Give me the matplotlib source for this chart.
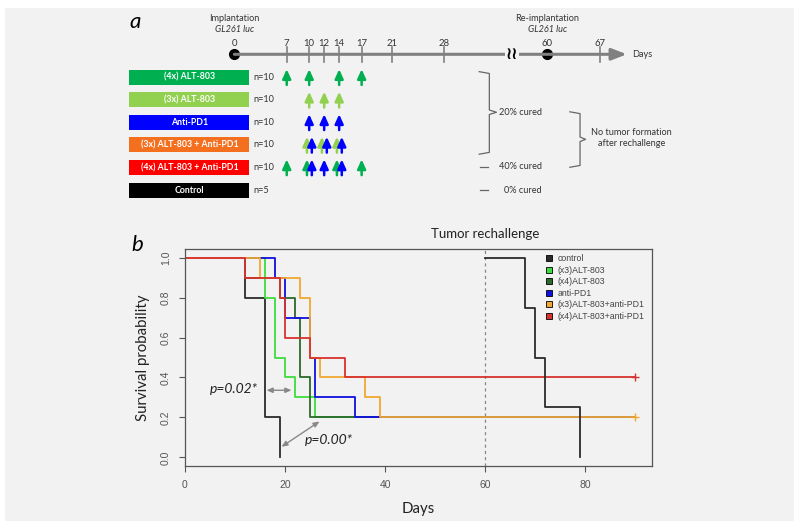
import matplotlib.pyplot as plt
import numpy as np
from matplotlib.lines import Line2D
from matplotlib.patches import Rectangle

# === データ(パネルa: 投与スケジュール) ===
groups = ['(4x) ALT-803', '(3x) ALT-803', 'Anti-PD1',
          '(3x) ALT-803 + Anti-PD1', '(4x) ALT-803 + Anti-PD1', 'Control']
group_n = ['n=10', 'n=10', 'n=10', 'n=10', 'n=10', 'n=5']
group_colors = ['#00b050', '#92d050', '#0000ff', '#f4701f', '#ff0000', '#000000']
timeline_days = [0, 7, 10, 12, 14, 17, 21, 28, 60, 67]
alt4_days = [7, 10, 14, 17]
alt3_days = [10, 12, 14]
pd1_days = [10, 12, 14]

# === データ(パネルb: 生存曲線) ===
km_labels = ['control', '(x3)ALT-803', '(x4)ALT-803', 'anti-PD1',
             '(x3)ALT-803+anti-PD1', '(x4)ALT-803+anti-PD1']
km_colors = ['#2b2b2b', '#3ddc3d', '#2a6a2a', '#1010e0', '#f0a830', '#d8322e']
km_times = [
    [0, 12, 16, 19],
    [0, 16, 18, 20, 22, 26],
    [0, 12, 19, 22, 23, 25],
    [0, 18, 20, 25, 26, 34],
    [0, 15, 23, 25, 27, 36, 39],
    [0, 12, 19, 20, 25, 32],
]
km_surv = [
    [1.0, 0.8, 0.2, 0.0],
    [1.0, 0.8, 0.5, 0.4, 0.3, 0.2],
    [1.0, 0.9, 0.8, 0.7, 0.4, 0.2],
    [1.0, 0.9, 0.7, 0.5, 0.3, 0.2],
    [1.0, 0.9, 0.8, 0.5, 0.4, 0.3, 0.2],
    [1.0, 0.9, 0.8, 0.6, 0.5, 0.4],
]
follow_end = 90
rechal_times = [60, 68, 70, 72, 79]
rechal_surv = [1.0, 0.75, 0.5, 0.25, 0.0]

BG = '#f2f2f2'
GRAY = '#808080'
TXT = '#333333'
FONT = ['Lato', 'DejaVu Sans']
RFONT = ['Liberation Sans', 'DejaVu Sans']
FS_A = 6.6

fig = plt.figure(figsize=(8, 5.28), dpi=100, facecolor='white')
fig.patches.append(Rectangle((5 / 800, 7 / 528), 789 / 800, 513 / 528,
                             transform=fig.transFigure, facecolor=BG,
                             edgecolor='none', zorder=-10))

# === パネルa ===
ax = fig.add_axes([0, 1 - 205 / 528, 1, 205 / 528])
ax.set_xlim(-234.3 / 7.49, (800 - 234.3) / 7.49)
ax.set_ylim((205 - 77.3) / 22.55, -77.3 / 22.55)
ax.axis('off')


def tl(d):
    # 28日と60日の間は省略
    return d if d <= 28 else d - 18.2


ty = -1.02
ax.annotate('', xy=(52.4, ty), xytext=(tl(0), ty),
            arrowprops=dict(arrowstyle='-|>,head_length=0.9,head_width=0.35',
                            color=GRAY, lw=2.2, shrinkA=0, shrinkB=0))
for d in timeline_days:
    if d not in (0, 60):
        ax.plot([tl(d), tl(d)], [ty - 0.32, ty + 0.33], color=GRAY, lw=1.2)
    ax.text(tl(d), -1.51, str(d), ha='center', va='center', fontsize=FS_A + 0.3,
            family=FONT, color=TXT)
ax.plot([tl(0), tl(60)], [ty, ty], 'o', color='black', markersize=7)
ax.text(37.1, ty, '≀≀', ha='center', va='center', fontsize=12,
        fontweight='bold', color='black',
        bbox=dict(boxstyle='square,pad=0.05', fc=BG, ec='none'))
ax.text(52.4 + 0.7, ty, 'Days', ha='left', va='center', fontsize=FS_A,
        family=FONT, color=TXT)
for d, lab in [(0, 'Implantation'), (60, 'Re-implantation')]:
    ax.text(tl(d), -2.62, lab, ha='center', va='center', fontsize=FS_A,
            family=FONT, color=TXT)
    ax.text(tl(d), -2.10, 'GL261 luc', ha='center', va='center', fontsize=FS_A,
            family=FONT, style='italic', color=TXT)
ax.text(-13.3, -2.45, 'a', ha='center', va='center', fontsize=16,
        family=FONT, style='italic')

rows = np.arange(len(groups))
ax.barh(rows, 16.0, left=-14.0, height=0.665, color=group_colors)
for r, (g, n) in enumerate(zip(groups, group_n)):
    ax.text(-6.0, r, g, ha='center', va='center', fontsize=6.3,
            family=FONT, fontweight='bold', color='white')
    ax.text(2.55, r, n, ha='left', va='center', fontsize=FS_A,
            family=FONT, color=TXT)


def up_arrow(x, r, c):
    ax.annotate('', xy=(x, r - 0.36), xytext=(x, r + 0.34),
                arrowprops=dict(arrowstyle='-|>,head_length=0.55,head_width=0.25',
                                color=c, lw=1.8, shrinkA=0, shrinkB=0))


schedule = [
    [(alt4_days, group_colors[0])],
    [(alt3_days, group_colors[1])],
    [(pd1_days, group_colors[2])],
    [(alt3_days, group_colors[1]), (pd1_days, group_colors[2])],
    [(alt4_days, group_colors[0]), (pd1_days, group_colors[2])],
    [],
]
for r, drugs in enumerate(schedule):
    all_days = [d for days, _ in drugs for d in days]
    for k, (days, c) in enumerate(drugs):
        for d in days:
            off = 0.0
            if all_days.count(d) > 1:
                off = -0.3 if k == 0 else 0.35
            up_arrow(tl(d) + off, r, c)


def brace(x_tip, x_v, x_notch, top, mid, bot):
    ax.plot([x_tip, x_v, x_v, x_notch, x_v, x_v, x_tip],
            [top, top + 0.08, mid - 0.1, mid, mid + 0.1, bot - 0.08, bot],
            color='#666666', lw=0.9)


brace(32.7, 34.05, 35.0, -0.25, 1.55, 3.41)
brace(44.8, 46.16, 46.9, 1.53, 2.75, 3.99)
ax.text(35.4, 1.55, '20% cured', ha='left', va='center', fontsize=FS_A,
        family=FONT, color=TXT)
for r, lab, x0 in [(3.96, '40% cured', 35.4), (5.0, '0% cured', 36.0)]:
    ax.plot([32.8, 33.9], [r, r], color='#666666', lw=0.9)
    ax.text(x0, r, lab, ha='left', va='center', fontsize=FS_A,
            family=FONT, color=TXT)
ax.text(53.06, 2.7, 'No tumor formation\nafter rechallenge', ha='center',
        va='center', fontsize=FS_A, family=FONT, color=TXT, linespacing=1.35)

# === パネルb ===
bx = fig.add_axes([185 / 800, 1 - 466 / 528, 467 / 800, 217 / 528])
bx.set_facecolor(BG)
bx.axvline(60, color='#888888', lw=0.9, ls=(0, (2.5, 2.5)))
censor = {}
for t, s, c in zip(km_times, km_surv, km_colors):
    tt = t + [follow_end if s[-1] > 0 else t[-1]]
    bx.step(tt, s + [s[-1]], where='post', color=c, lw=1.3)
    if s[-1] > 0:
        censor[s[-1]] = c
for lvl, c in censor.items():
    bx.plot(follow_end, lvl, '+', color=c, markersize=6, mew=1)
bx.step(rechal_times + [rechal_times[-1]], rechal_surv + [rechal_surv[-1]],
        where='post', color=km_colors[0], lw=1.3)

bx.set_xlim(0, 93.4)
bx.set_ylim(-0.043, 1.043)
bx.set_xticks([0, 20, 40, 60, 80])
bx.set_yticks([0, 0.2, 0.4, 0.6, 0.8, 1.0])
bx.set_yticklabels(['0.0', '0.2', '0.4', '0.6', '0.8', '1.0'], rotation=90,
                   va='center')
bx.tick_params(colors='#555555', labelsize=7.5, length=4, width=0.8, pad=6)
for lab in bx.get_xticklabels() + bx.get_yticklabels():
    lab.set_family(RFONT)
for sp in bx.spines.values():
    sp.set_color('#555555')
    sp.set_linewidth(0.9)

bx.set_xlabel('Days', fontsize=10.8, family=FONT, color='#222222', labelpad=9)
bx.set_ylabel('Survival probability', fontsize=10.8, family=FONT,
              color='#222222', labelpad=8)
bx.text(60, 1.069, 'Tumor rechallenge', transform=bx.get_xaxis_transform(),
        ha='center', va='center', fontsize=9.5, family=FONT, color='#222222')
fig.text(137 / 800, 1 - 245 / 528, 'b', ha='center', va='center',
         fontsize=16, family=FONT, style='italic')

# p値
bx.annotate('', xy=(21.3, 0.336), xytext=(16.3, 0.336),
            arrowprops=dict(arrowstyle='<|-|>,head_length=0.35,head_width=0.15',
                            color='#888888', lw=1, shrinkA=0, shrinkB=0))
bx.text(9.8, 0.342, 'p=0.02*', ha='center', va='center', fontsize=10,
        family=FONT, style='italic', color='#222222')
bx.annotate('', xy=(26.9, 0.18), xytext=(19.3, 0.053),
            arrowprops=dict(arrowstyle='<|-|>,head_length=0.35,head_width=0.15',
                            color='#888888', lw=1, shrinkA=0, shrinkB=0))
bx.text(28.7, 0.087, 'p=0.00*', ha='center', va='center', fontsize=10,
        family=FONT, style='italic', color='#222222')

# 凡例
handles = [Line2D([], [], marker='s', linestyle='none', markerfacecolor=c,
                  markeredgecolor='black', markeredgewidth=0.6, markersize=4.5)
           for c in km_colors]
leg = bx.legend(handles, km_labels, loc='upper left',
                bbox_to_anchor=(0.772, 0.975), frameon=False,
                prop={'family': RFONT, 'size': 6.3}, handlelength=0.8,
                handletextpad=0.6, labelspacing=0.28, borderpad=0,
                borderaxespad=0)
for t in leg.get_texts():
    t.set_color('#444444')

plt.savefig('out.png', dpi=100, facecolor='white')
